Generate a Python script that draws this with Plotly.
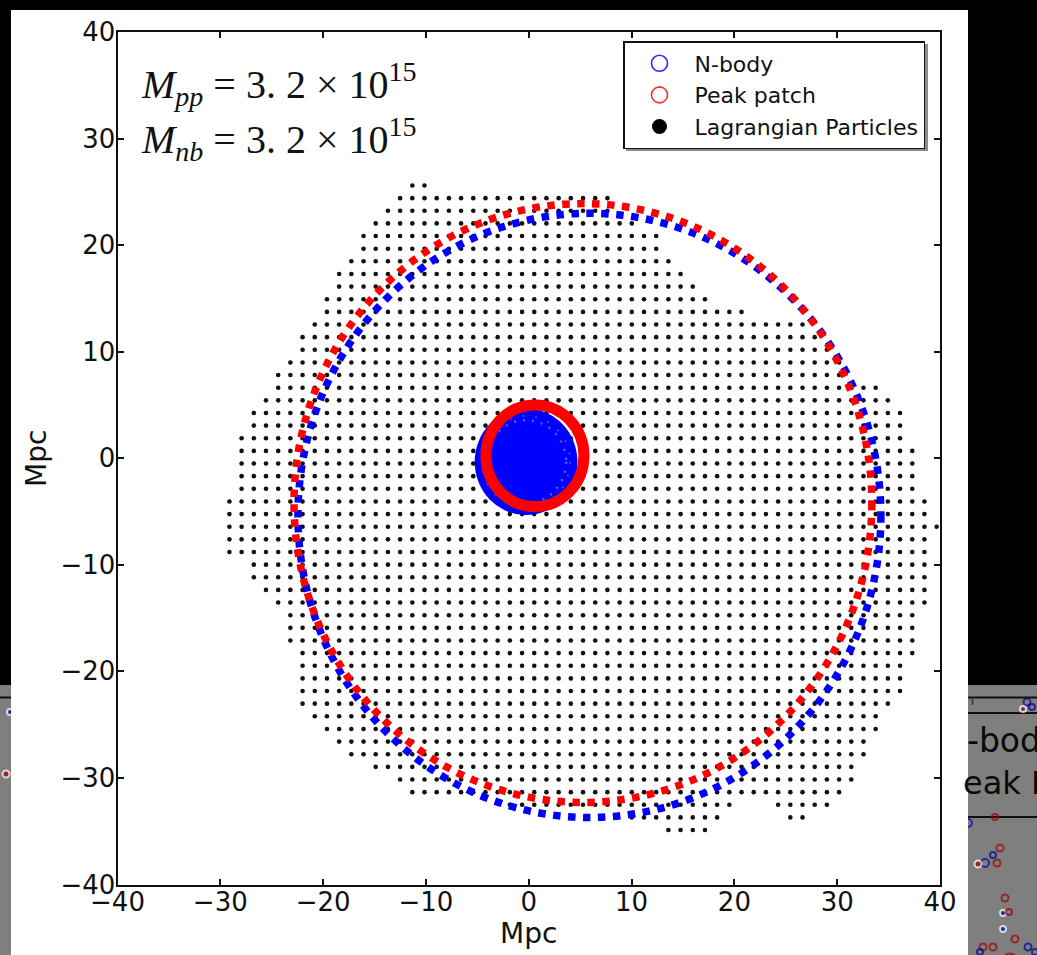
import plotly.graph_objects as go

W, H = 1037, 955

# ---- Lagrangian particle lattice (Mpc) ----
GRID_STEP = 1.186
GRID_X0 = 0.535
GRID_Y0 = 0.69
row_index = [21, 20, 19, 18, 17, 16, 15, 14, 13, 12, 11, 10, 9, 8, 7, 6, 5, 4, 3, 2, 1, 0,
             -1, -2, -3, -4, -5, -6, -7, -8, -9, -10, -11, -12, -13, -14, -15, -16, -17,
             -18, -19, -20, -21, -22, -23, -24, -25, -26, -27, -28, -29, -30]
row_segments = [
    [(-10, -9)], [(-11, 6)], [(-12, 6)], [(-13, 8)], [(-14, 10)], [(-14, 10)], [(-15, 11)],
    [(-16, 12)], [(-16, 13)], [(-17, 14)], [(-17, 17)], [(-18, 22)], [(-19, 23)], [(-19, 24)],
    [(-20, 25)], [(-21, 25)], [(-21, 28)], [(-22, 29)], [(-23, 30)], [(-23, 30)], [(-24, 30)],
    [(-24, 31)], [(-24, 31)], [(-24, 31)], [(-24, 31)], [(-25, 32)], [(-25, 32)], [(-25, 33)],
    [(-25, 32)], [(-25, 32)], [(-23, 32)], [(-23, 32)], [(-22, 32)], [(-21, 32)], [(-20, 31)],
    [(-20, 31)], [(-20, 31)], [(-19, 31)], [(-19, 30)], [(-19, 30)], [(-19, 30)], [(-19, 29)],
    [(-18, 28)], [(-17, 28)], [(-16, 27)], [(-15, 27)], [(-13, 26)], [(-11, 26)], [(-10, 25)],
    [(-2, 16), (20, 24)], [(8, 15), (21, 22)], [(11, 14)],
]

# ---- halo boundaries (centre x, centre y, radius) in Mpc ----
nbody_lagrangian = (5.9, -5.36, 28.35)
peak_lagrangian = (5.27, -4.2, 28.1)
nbody_halo = (-0.26, -0.33, 5.0)
peak_halo = (0.6, 0.23, 4.77)

mass_pp = "3. 2 × 10<sup>15</sup>"
mass_nb = "3. 2 × 10<sup>15</sup>"

tick_values = [-40, -30, -20, -10, 0, 10, 20, 30, 40]

# ---- neighbouring slide content peeking in at the edges (pixel positions) ----
side_x = [1027, 1023, 1032, 968, 995, 1000, 993, 985, 978, 997, 1005, 1003, 1009, 1003,
          1015, 983, 993, 980, 1028, 1035, 1010]
side_y = [702, 709, 707, 823, 817, 848, 855, 863, 864, 863, 898, 913, 912, 929,
          939, 947, 947, 952, 947, 952, 962]
side_kind = ["bo", "rf", "bo", "bo", "ro", "ro", "bo", "bo", "rf", "ro", "ro", "bf", "ro", "bf",
             "ro", "ro", "ro", "bo", "bo", "bo", "ro"]
side_size = [7, 6, 6, 8, 6, 7, 6, 8, 7, 7, 7, 6, 6, 6, 7, 7, 7, 6, 7, 6, 17]
left_x = [10, 6]
left_y = [712, 774]
left_kind = ["bf", "rf"]
left_size = [6, 7]

# ---- build particle coordinates ----
px, py = [], []
for j, segs in zip(row_index, row_segments):
    for i0, i1 in segs:
        for i in range(i0, i1 + 1):
            px.append(GRID_X0 + i * GRID_STEP)
            py.append(GRID_Y0 + j * GRID_STEP)


def fx(p):
    return p / W


def fy(p):
    return 1 - p / H


PLOT_L, PLOT_R, PLOT_T, PLOT_B = 117.5, 940.0, 32.0, 884.5
TEXT = "#111111"
DARK_RED, DARK_BLUE = "#a00000", "#0000a0"
LEG_L, LEG_T = 623, 41


def marker_style(kinds):
    syms = ["circle" if k[1] == "f" else "circle-open" for k in kinds]
    cols = [DARK_RED if k[0] == "r" else DARK_BLUE for k in kinds]
    return syms, cols


fig = go.Figure()

# legend entries
fig.add_trace(go.Scatter(x=[None], y=[None], mode="markers", name="N-body",
                         marker=dict(symbol="circle-open", size=16, color="#2b2bff",
                                     line=dict(width=1.6))))
fig.add_trace(go.Scatter(x=[None], y=[None], mode="markers", name="Peak patch",
                         marker=dict(symbol="circle-open", size=16, color="#ff2b2b",
                                     line=dict(width=1.6))))
fig.add_trace(go.Scatter(x=[None], y=[None], mode="markers", name="Lagrangian Particles",
                         marker=dict(symbol="circle", size=15, color="black")))

# particles
fig.add_trace(go.Scatter(x=px, y=py, mode="markers", showlegend=False, hoverinfo="skip",
                         marker=dict(symbol="circle", size=4.6, color="#111111",
                                     line=dict(width=0))))

# edge content
s_sym, s_col = marker_style(side_kind)
fig.add_trace(go.Scatter(x=side_x, y=side_y, xaxis="x2", yaxis="y2", mode="markers",
                         showlegend=False, hoverinfo="skip",
                         marker=dict(symbol=s_sym, color=s_col, size=side_size,
                                     line=dict(width=2))))
l_sym, l_col = marker_style(left_kind)
fig.add_trace(go.Scatter(x=left_x, y=left_y, xaxis="x3", yaxis="y3", mode="markers",
                         showlegend=False, hoverinfo="skip",
                         marker=dict(symbol=l_sym, color=l_col, size=left_size,
                                     line=dict(width=2))))

shapes = []
# backdrop
shapes.append(dict(type="rect", xref="paper", yref="paper", layer="below",
                   x0=fx(11), x1=fx(968), y0=fy(10), y1=fy(955),
                   fillcolor="white", line=dict(width=0)))
for a, b in [(0, 11), (968, W)]:
    shapes.append(dict(type="rect", xref="paper", yref="paper", layer="below",
                       x0=fx(a), x1=fx(b), y0=fy(685), y1=fy(955),
                       fillcolor="#7f7f7f", line=dict(width=0)))
    shapes.append(dict(type="line", xref="paper", yref="paper", layer="below",
                       x0=fx(a), x1=fx(b), y0=fy(697.5), y1=fy(697.5),
                       line=dict(color=TEXT, width=2)))
for yy in (713, 817):
    shapes.append(dict(type="line", xref="paper", yref="paper", layer="below",
                       x0=fx(968), x1=fx(W), y0=fy(yy), y1=fy(yy),
                       line=dict(color=TEXT, width=2)))
shapes.append(dict(type="line", xref="paper", yref="paper", layer="below",
                   x0=fx(972.5), x1=fx(972.5), y0=fy(697), y1=fy(705),
                   line=dict(color="#333333", width=1.5)))


def circle(c, **kw):
    cx, cy, r = c
    d = dict(type="circle", xref="x", yref="y", layer="above",
             x0=cx - r, x1=cx + r, y0=cy - r, y1=cy + r)
    d.update(kw)
    return d


shapes.append(circle(nbody_lagrangian, line=dict(color="#0000ff", width=7.5, dash="7.5px,7.5px")))
shapes.append(circle(peak_lagrangian, line=dict(color="#ff0000", width=7.5, dash="7.5px,7.5px")))
shapes.append(circle(nbody_halo, fillcolor="#0000ff", line=dict(width=0)))
cx, cy, r = nbody_halo
shapes.append(circle((cx, cy, r * 0.78), opacity=0.55,
                     line=dict(color="#a0a0ff", width=2.5, dash="2px,7px")))
shapes.append(circle((cx, cy, r * 0.86), opacity=0.4,
                     line=dict(color="#a0a0ff", width=2, dash="2px,11px")))
shapes.append(circle(peak_halo, line=dict(color="#ff0000", width=11)))

# legend drop shadow
shapes.append(dict(type="rect", xref="paper", yref="paper", layer="above",
                   x0=fx(LEG_L + 3), x1=fx(LEG_L + 305), y0=fy(LEG_T + 3), y1=fy(LEG_T + 110),
                   fillcolor="#8c8c8c", line=dict(width=0)))

annotations = [
    dict(xref="paper", yref="paper", x=fx(139), y=fy(84), xanchor="left", yanchor="middle",
         showarrow=False,
         text="<i>M</i><sub><i>pp</i></sub> = " + mass_pp,
         font=dict(family="Liberation Serif", size=40, color=TEXT)),
    dict(xref="paper", yref="paper", x=fx(139), y=fy(139), xanchor="left", yanchor="middle",
         showarrow=False,
         text="<i>M</i><sub><i>nb</i></sub> = " + mass_nb,
         font=dict(family="Liberation Serif", size=40, color=TEXT)),
    dict(xref="paper", yref="paper", x=fx(965), y=fy(740), xanchor="left", yanchor="middle",
         showarrow=False, text="-body",
         font=dict(family="DejaVu Sans", size=33, color="#0a0a0a")),
    dict(xref="paper", yref="paper", x=fx(961), y=fy(783), xanchor="left", yanchor="middle",
         showarrow=False, text="eak Patch",
         font=dict(family="DejaVu Sans", size=32, color="#0a0a0a")),
]

axis_common = dict(range=[-40, 40], tickmode="array", tickvals=tick_values,
                   ticks="inside", ticklen=6, tickwidth=1.5, tickcolor=TEXT,
                   showline=True, linewidth=2, linecolor=TEXT, mirror="ticks",
                   showgrid=False, zeroline=False, automargin=False,
                   tickfont=dict(family="DejaVu Sans", size=26, color=TEXT))

fig.update_layout(
    width=W, height=H, autosize=False,
    margin=dict(l=0, r=0, t=0, b=0, autoexpand=False),
    paper_bgcolor="black", plot_bgcolor="rgba(0,0,0,0)",
    xaxis=dict(axis_common, domain=[fx(PLOT_L), fx(PLOT_R)], anchor="y",
               ticklabelstandoff=-7,
               title=dict(text="Mpc", font=dict(family="DejaVu Sans", size=28, color=TEXT),
                          standoff=4)),
    yaxis=dict(axis_common, domain=[fy(PLOT_B), fy(PLOT_T)], anchor="x",
               ticklabelstandoff=-5,
               title=dict(text="Mpc", font=dict(family="DejaVu Sans", size=28, color=TEXT),
                          standoff=6)),
    xaxis2=dict(domain=[fx(968), 1], range=[968, W], visible=False, anchor="y2",
                automargin=False),
    yaxis2=dict(domain=[0, fy(685)], range=[H, 685], visible=False, anchor="x2",
                automargin=False),
    xaxis3=dict(domain=[0, fx(11)], range=[0, 11], visible=False, anchor="y3",
                automargin=False),
    yaxis3=dict(domain=[0, fy(685)], range=[H, 685], visible=False, anchor="x3",
                automargin=False),
    showlegend=True,
    legend=dict(x=fx(LEG_L), y=fy(LEG_T), xanchor="left", yanchor="top",
                bgcolor="white", bordercolor=TEXT, borderwidth=1.5,
                font=dict(family="DejaVu Sans", size=22, color=TEXT),
                itemwidth=60, entrywidth=236, traceorder="normal"),
    shapes=shapes,
    annotations=annotations,
)

fig.write_html("out.html")
